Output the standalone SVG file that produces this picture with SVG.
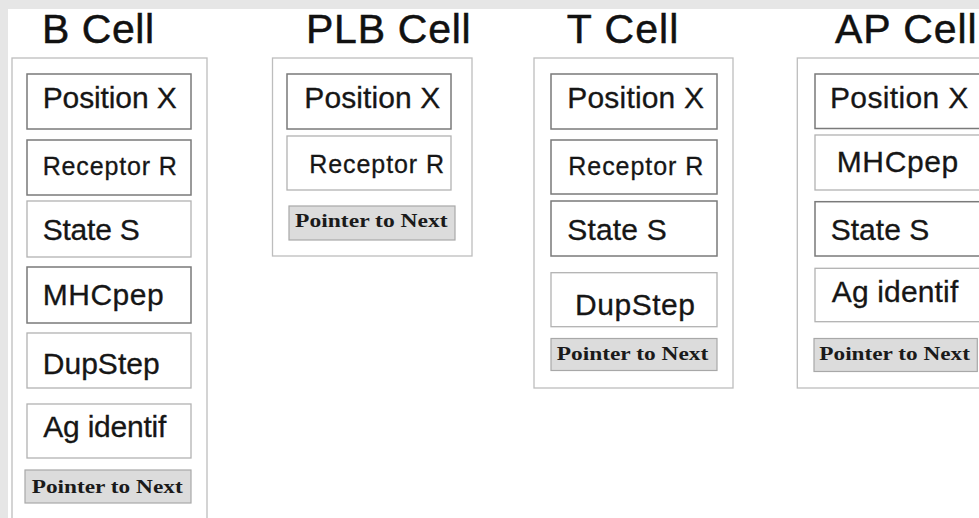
<svg xmlns="http://www.w3.org/2000/svg" width="979" height="518" viewBox="0 0 979 518">
  <style>
    .outer { fill: #ffffff; stroke: #bdbdbd; stroke-width: 1.3; }
    .dark { fill: #ffffff; stroke: #7a7a7a; stroke-width: 1.5; }
    .light { fill: #ffffff; stroke: #b2b2b2; stroke-width: 1.3; }
    .ptr { fill: #dcdcdc; stroke: #a8a8a8; stroke-width: 1.2; }
    .title { font-family: "Liberation Sans", Arial, sans-serif; font-size: 41px; fill: #111; stroke: #111; stroke-width: 0.5; }
    .field { font-family: "Liberation Sans", Arial, sans-serif; font-size: 30px; fill: #161616; stroke: #161616; stroke-width: 0.3; }
    .rec { font-family: "Liberation Sans", Arial, sans-serif; font-size: 25px; fill: #161616; stroke: #161616; stroke-width: 0.3; }
    .ptxt { font-family: "Liberation Serif", "Times New Roman", serif; font-size: 19px; font-weight: bold; fill: #1a1a1a; }
  </style>

  <!-- page background with grey margins -->
  <rect x="0" y="0" width="979" height="518" fill="#ffffff"/>
  <rect x="0" y="0" width="979" height="9" fill="#e6e6e6"/>
  <rect x="0" y="0" width="8" height="518" fill="#e6e6e6"/>

  <g id="connectors"/>

  <!-- B cell record -->
  <g id="b-cell">
    <text class="title" x="42" y="42.5" textLength="112">B Cell</text>
    <rect class="outer" x="12" y="58" width="195" height="480"/>
    <g id="b-position"><rect class="dark" x="27" y="74" width="164" height="55"/>
      <text class="field" x="42.7" y="108" textLength="134">Position X</text></g>
    <g id="b-receptor"><rect class="dark" x="27" y="140" width="164" height="55"/>
      <text class="rec" x="42.7" y="175" textLength="134">Receptor R</text></g>
    <g id="b-state"><rect class="light" x="27" y="201" width="164" height="56"/>
      <text class="field" x="42.7" y="240" textLength="97">State S</text></g>
    <g id="b-mhcpep"><rect class="dark" x="27" y="267" width="164" height="56"/>
      <text class="field" x="42.7" y="305" textLength="121">MHCpep</text></g>
    <g id="b-dupstep"><rect class="light" x="27" y="333" width="164" height="55"/>
      <text class="field" x="42.7" y="373.5" textLength="117">DupStep</text></g>
    <g id="b-agident"><rect class="light" x="27" y="404" width="164" height="54"/>
      <text class="field" x="43.3" y="437" textLength="123">Ag identif</text></g>
    <g id="b-next"><rect class="ptr" x="25" y="470" width="166" height="33"/>
      <text class="ptxt" x="31.7" y="492.5" textLength="151" lengthAdjust="spacingAndGlyphs">Pointer to Next</text></g>
  </g>

  <!-- PLB cell record -->
  <g id="plb-cell">
    <text class="title" x="306" y="42.5" textLength="164.7">PLB Cell</text>
    <rect class="outer" x="272.5" y="58" width="199.5" height="198"/>
    <g id="plb-position"><rect class="dark" x="287" y="74" width="164" height="55"/>
      <text class="field" x="304.3" y="108.3" textLength="136">Position X</text></g>
    <g id="plb-receptor"><rect class="light" x="287" y="136" width="164" height="54"/>
      <text class="rec" x="309.3" y="172.7" textLength="134.7">Receptor R</text></g>
    <g id="plb-next"><rect class="ptr" x="289" y="206" width="166" height="34"/>
      <text class="ptxt" x="295" y="227" textLength="152.7" lengthAdjust="spacingAndGlyphs">Pointer to Next</text></g>
  </g>

  <!-- T cell record -->
  <g id="t-cell">
    <text class="title" x="566.7" y="42.5" textLength="111.7">T Cell</text>
    <rect class="outer" x="534" y="58" width="199" height="330"/>
    <g id="t-position"><rect class="dark" x="551" y="74" width="166" height="55"/>
      <text class="field" x="567.3" y="108" textLength="136.7">Position X</text></g>
    <g id="t-receptor"><rect class="dark" x="551" y="140" width="166" height="54"/>
      <text class="rec" x="568.3" y="175" textLength="135">Receptor R</text></g>
    <g id="t-state"><rect class="dark" x="551" y="201" width="166" height="55"/>
      <text class="field" x="567.3" y="240" textLength="99.4">State S</text></g>
    <g id="t-dupstep"><rect class="light" x="551" y="272.7" width="166" height="54"/>
      <text class="field" x="575" y="315" textLength="120">DupStep</text></g>
    <g id="t-next"><rect class="ptr" x="551" y="338.5" width="166" height="32"/>
      <text class="ptxt" x="556.7" y="360" textLength="151.6" lengthAdjust="spacingAndGlyphs">Pointer to Next</text></g>
  </g>

  <!-- AP cell record -->
  <g id="ap-cell">
    <text class="title" x="835" y="42.5" textLength="141.7">AP Cell</text>
    <rect class="outer" x="797.3" y="58" width="200" height="330"/>
    <g id="ap-position"><rect class="dark" x="815" y="74" width="166" height="54.5"/>
      <text class="field" x="830" y="108" textLength="138.3">Position X</text></g>
    <g id="ap-mhcpep"><rect class="light" x="815" y="135" width="166" height="55"/>
      <text class="field" x="836.7" y="172" textLength="121.6">MHCpep</text></g>
    <g id="ap-state"><rect class="dark" x="815" y="201.7" width="166" height="54.3"/>
      <text class="field" x="830.7" y="240" textLength="98.6">State S</text></g>
    <g id="ap-agident"><rect class="light" x="815" y="268.3" width="166" height="53.4"/>
      <text class="field" x="831.7" y="302" textLength="126.6">Ag identif</text></g>
    <g id="ap-next"><rect class="ptr" x="814" y="338.5" width="163.3" height="33"/>
      <text class="ptxt" x="819.3" y="360" textLength="150.7" lengthAdjust="spacingAndGlyphs">Pointer to Next</text></g>
  </g>
</svg>
